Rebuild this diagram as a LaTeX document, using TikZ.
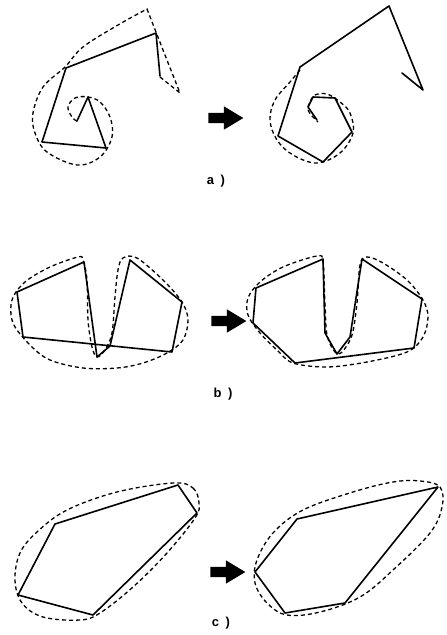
\documentclass[tikz,border=0pt]{standalone}
\usepackage{fontspec}
\setsansfont{Liberation Sans}
\usepackage{tikz}
\usetikzlibrary{shapes.arrows,positioning}
\tikzset{
  sk_path/.style={
    draw, line width=1.6pt, line join=round, line cap=round
  },
  sk_hull/.style={
    draw, line width=1.3pt, dash pattern=on 4pt off 3pt
  },
  sk_arr/.style={
    single arrow, fill=black, draw=none, inner sep=0pt,
    minimum height=35pt, minimum width=23pt,
    single arrow head extend=6.5pt, shape border rotate=0,
    single arrow tip angle=62
  },
  sk_lbl/.style={
    font=\sffamily\bfseries\fontsize{13}{15}\selectfont, inner sep=0pt
  },
}
\begin{document}
\begin{tikzpicture}[x=1pt,y=-1pt]
\useasboundingbox (0,0) rectangle (447,635);

% a) spiral
\draw[sk_path] (77,121) -- (88,97) -- (106,148) -- (42,142) -- (66,68)
  -- (156,33) -- (160,76);
\draw[sk_hull] (160,77) -- (180,93) -- (163,50) -- (147,9)
  -- plot[smooth, tension=0.6] coordinates {(147,9) (118,25) (83,47) (65,67)
  (43,87) (33,113) (35,133) (47,152) (77,165) (100,157) (112,137) (110,117)
  (100,102) (88,97) (75,98) (68,107) (72,117) (78,122)};

\draw[sk_path] (317,120) -- (308,107) -- (313,97) -- (335,98) -- (352,132)
  -- (323,162) -- (278,136) -- (300,67) -- (389,6) -- (423,90) -- (402,73);
\draw[sk_hull] plot[smooth, tension=0.6] coordinates {(300,70) (290,82)
  (275,100) (270,120) (277,140) (293,155) (317,163) (340,153) (353,133)
  (350,113) (340,102) (327,94) (315,95) (310,102) (308,110) (313,117)
  (318,122)};

\node[sk_arr] (arrA) at (221.5,118) {\rule{0pt}{10pt}};
\node[sk_lbl] (lblA) at (216,181) {a\enspace)};

% b) notched polygon
\draw[sk_path] (23,337) -- (17,292) -- (84,262) -- (97,357) -- (110,346)
  -- (130,260) -- (182,302) -- (172,352) -- cycle;
\draw[sk_hull] plot[smooth cycle, tension=0.55] coordinates {(78,257)
  (50,267) (25,282) (12,300) (13,323) (30,345) (50,360) (83,368) (117,368)
  (143,363) (167,353) (183,340) (188,320) (182,302) (163,280) (137,258)
  (123,258) (118,270) (115,297) (112,333) (105,350) (97,357) (92,347)
  (88,320) (87,280) (83,260)};

\draw[sk_path] (256,288) -- (323,259) -- (325,333) -- (337,354) -- (350,337)
  -- (362,259) -- (422,299) -- (414,348) -- (295,363) -- (253,323) -- cycle;
\draw[sk_hull] plot[smooth cycle, tension=0.55] coordinates {(317,256)
  (283,267) (260,282) (248,298) (248,315) (260,333) (277,350) (293,363)
  (327,367) (367,362) (407,352) (423,337) (428,317) (423,300) (407,280)
  (383,263) (367,257) (360,265) (357,303) (352,335) (342,352) (335,352)
  (327,335) (325,303) (323,262)};

\node[sk_arr] (arrB) at (224.5,321) {\rule{0pt}{10pt}};
\node[sk_lbl] (lblB) at (223,394) {b\enspace)};

% c) convex polygon
\draw[sk_path] (55,524) -- (178,485) -- (197,513) -- (93,615) -- (18,595)
  -- cycle;
\draw[sk_hull] plot[smooth cycle, tension=0.6] coordinates {(173,483)
  (193,488) (199,503) (195,518) (167,553) (133,587) (100,613) (80,620)
  (43,617) (22,603) (15,580) (20,553) (37,532) (67,510) (117,492)};

\draw[sk_path] (297,519) -- (438,487) -- (345,603) -- (285,613) -- (255,572)
  -- cycle;
\draw[sk_hull] plot[smooth cycle, tension=0.6] coordinates {(420,481)
  (440,487) (442,507) (430,533) (393,570) (360,597) (320,612) (287,615)
  (267,603) (255,583) (257,560) (273,533) (303,510) (353,492) (393,482)};

\node[sk_arr] (arrC) at (223.5,572) {\rule{0pt}{10pt}};
\node[sk_lbl] (lblC) at (221,623) {c\enspace)};

\end{tikzpicture}
\end{document}
